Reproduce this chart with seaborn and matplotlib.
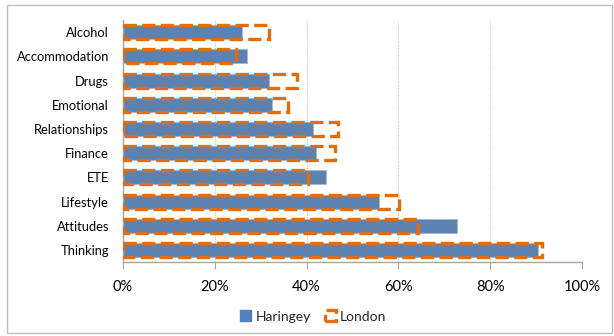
import matplotlib
matplotlib.use("Agg")
import matplotlib.pyplot as plt
from matplotlib.patches import Patch, Rectangle
from matplotlib.ticker import PercentFormatter
import pandas as pd
import seaborn as sns

# Share of cases flagging each need, Haringey vs London
categories = ["Alcohol", "Accommodation", "Drugs", "Emotional", "Relationships",
              "Finance", "ETE", "Lifestyle", "Attitudes", "Thinking"]
haringey = [25.9, 27.0, 31.8, 32.5, 41.4, 42.0, 44.2, 55.8, 72.8, 90.4]
london = [31.8, 24.6, 37.9, 36.0, 46.8, 46.2, 40.3, 60.1, 64.3, 91.3]
x_ticks = [0, 20, 40, 60, 80, 100]

BLUE = "#4F81BD"
ORANGE = "#E46C0A"
DASH = (0, (4.0, 1.6))

df = pd.DataFrame({"need": categories, "Haringey": haringey, "London": london})

sns.set_style("white")
plt.rcParams["font.family"] = ["Lato", "DejaVu Sans"]

fig = plt.figure(figsize=(6.14, 3.36), dpi=100)
ax = fig.add_axes([0.2003, 0.220, 0.7477, 0.720])

sns.barplot(data=df, x="Haringey", y="need", orient="h", color=BLUE,
            width=0.58, ax=ax, edgecolor="#9DB9DE", linewidth=0.6, zorder=2)
n_blue = len(ax.patches)
sns.barplot(data=df, x="London", y="need", orient="h", color=ORANGE,
            width=0.58, ax=ax, zorder=3)
for p in ax.patches[n_blue:]:
    p.set_facecolor("none")
    p.set_edgecolor(ORANGE)
    p.set_linewidth(2.4)
    p.set_linestyle(DASH)

ax.set_xlim(0, 100)
ax.set_ylim(9.5, -0.5)
ax.set_xticks(x_ticks)
ax.xaxis.set_major_formatter(PercentFormatter(decimals=0))
ax.set_xlabel("")
ax.set_ylabel("")

ax.grid(axis="x", color="#C8C8C8", linestyle=(0, (1, 1)), linewidth=0.8, zorder=0)
ax.set_axisbelow(True)
for side in ("top", "right"):
    ax.spines[side].set_visible(False)
for side in ("left", "bottom"):
    ax.spines[side].set_color("#A6A6A6")
    ax.spines[side].set_linewidth(1.0)

ax.tick_params(axis="x", which="major", bottom=True, length=5, color="#A6A6A6",
               labelsize=10.5, pad=8, labelcolor="#000000")
ax.tick_params(axis="y", left=False, length=0, labelsize=9.3, pad=10,
               labelcolor="#000000")

handles = [Patch(facecolor=BLUE, edgecolor=BLUE),
           Patch(facecolor="none", edgecolor=ORANGE, linewidth=2.4, linestyle=DASH)]
fig.legend(handles, ["Haringey", "London"], loc="center",
           bbox_to_anchor=(0.51, 0.058), ncol=2, frameon=False,
           fontsize=10, handlelength=0.8, handleheight=0.8,
           handletextpad=0.3, columnspacing=1.0)

fig.patches.append(Rectangle((0.011, 0.009), 0.985, 0.976, transform=fig.transFigure,
                             fill=False, edgecolor="#BFBFBF", linewidth=1.0))

fig.savefig("out.png", dpi=100)
